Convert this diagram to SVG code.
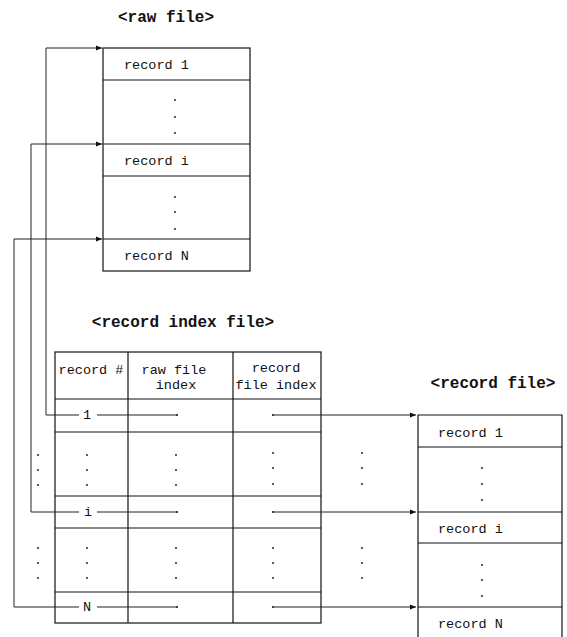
<svg xmlns="http://www.w3.org/2000/svg" width="567" height="637" viewBox="0 0 567 637">
<defs>
<marker id="ah" viewBox="0 0 6 6" refX="6" refY="3" markerWidth="6" markerHeight="6" markerUnits="userSpaceOnUse" orient="auto">
<path d="M0,0.5 L6,3 L0,5.5 Z" fill="#111"/>
</marker>
<style>
.t{font-family:"Liberation Mono","DejaVu Sans Mono",monospace;font-size:13.5px;fill:#111}
.h{font-family:"Liberation Mono","DejaVu Sans Mono",monospace;font-size:16px;font-weight:bold;fill:#111}
.b{fill:none;stroke:#111;stroke-width:1.2}
.c{fill:none;stroke:#222;stroke-width:1}
.d{fill:#111}
</style>
</defs>
<rect width="567" height="637" fill="#fff"/>

<g id="raw-file">
<text class="h" x="166" y="22" text-anchor="middle">&lt;raw file&gt;</text>
<rect class="b" x="103" y="48" width="147" height="223"/>
<line class="b" x1="103" y1="80" x2="250" y2="80"/>
<line class="b" x1="103" y1="144" x2="250" y2="144"/>
<line class="b" x1="103" y1="176" x2="250" y2="176"/>
<line class="b" x1="103" y1="239" x2="250" y2="239"/>
<text class="t" x="124" y="69">record 1</text>
<text class="t" x="124" y="165">record i</text>
<text class="t" x="124" y="260">record N</text>
<circle class="d" cx="175" cy="100" r="0.9"/><circle class="d" cx="175" cy="117" r="0.9"/><circle class="d" cx="175" cy="133" r="0.9"/>
<circle class="d" cx="175" cy="197" r="0.9"/><circle class="d" cx="175" cy="212" r="0.9"/><circle class="d" cx="175" cy="229" r="0.9"/>
</g>

<g id="record-index-file">
<text class="h" x="183" y="327" text-anchor="middle">&lt;record index file&gt;</text>
<rect class="b" x="55" y="352" width="266" height="271"/>
<line class="b" x1="128" y1="352" x2="128" y2="623"/>
<line class="b" x1="233" y1="352" x2="233" y2="623"/>
<line class="b" x1="55" y1="399" x2="321" y2="399"/>
<line class="b" x1="55" y1="432" x2="321" y2="432"/>
<line class="b" x1="55" y1="496" x2="321" y2="496"/>
<line class="b" x1="55" y1="528" x2="321" y2="528"/>
<line class="b" x1="55" y1="592" x2="321" y2="592"/>
<text class="t" x="91" y="374" text-anchor="middle">record #</text>
<text class="t" x="174" y="374" text-anchor="middle">raw file</text>
<text class="t" x="176" y="389" text-anchor="middle">index</text>
<text class="t" x="276" y="372" text-anchor="middle">record</text>
<text class="t" x="276" y="389" text-anchor="middle">file index</text>
<text class="t" x="87" y="419" text-anchor="middle">1</text>
<text class="t" x="88" y="516" text-anchor="middle">i</text>
<text class="t" x="87" y="611" text-anchor="middle">N</text>
<g class="d">
<circle cx="177" cy="415" r="1"/><circle cx="273" cy="415" r="1"/>
<circle cx="177" cy="512" r="1"/><circle cx="273" cy="512" r="1"/>
<circle cx="177" cy="607" r="1"/><circle cx="273" cy="607" r="1"/>
<circle cx="87" cy="455" r="0.9"/><circle cx="87" cy="470" r="0.9"/><circle cx="87" cy="485" r="0.9"/>
<circle cx="176" cy="455" r="0.9"/><circle cx="176" cy="470" r="0.9"/><circle cx="176" cy="485" r="0.9"/>
<circle cx="273" cy="453" r="0.9"/><circle cx="273" cy="468" r="0.9"/><circle cx="273" cy="484" r="0.9"/>
<circle cx="87" cy="548" r="0.9"/><circle cx="87" cy="563" r="0.9"/><circle cx="87" cy="578" r="0.9"/>
<circle cx="176" cy="548" r="0.9"/><circle cx="176" cy="563" r="0.9"/><circle cx="176" cy="578" r="0.9"/>
<circle cx="273" cy="548" r="0.9"/><circle cx="273" cy="563" r="0.9"/><circle cx="273" cy="578" r="0.9"/>
<circle cx="38" cy="455" r="0.9"/><circle cx="38" cy="470" r="0.9"/><circle cx="38" cy="485" r="0.9"/>
<circle cx="38" cy="548" r="0.9"/><circle cx="38" cy="563" r="0.9"/><circle cx="38" cy="578" r="0.9"/>
<circle cx="362" cy="453" r="0.9"/><circle cx="362" cy="468" r="0.9"/><circle cx="362" cy="484" r="0.9"/>
<circle cx="362" cy="548" r="0.9"/><circle cx="362" cy="563" r="0.9"/><circle cx="362" cy="578" r="0.9"/>
</g>
</g>

<g id="record-file">
<text class="h" x="493" y="388" text-anchor="middle">&lt;record file&gt;</text>
<path class="b" d="M418,637 V415 H562 V637"/>
<line class="b" x1="418" y1="447" x2="562" y2="447"/>
<line class="b" x1="418" y1="512" x2="562" y2="512"/>
<line class="b" x1="418" y1="543" x2="562" y2="543"/>
<line class="b" x1="418" y1="607" x2="562" y2="607"/>
<text class="t" x="438" y="437">record 1</text>
<text class="t" x="438" y="533">record i</text>
<text class="t" x="438" y="628">record N</text>
<g class="d">
<circle cx="482" cy="468" r="0.9"/><circle cx="482" cy="484" r="0.9"/><circle cx="482" cy="500" r="0.9"/>
<circle cx="482" cy="565" r="0.9"/><circle cx="482" cy="580" r="0.9"/><circle cx="482" cy="596" r="0.9"/>
</g>
</g>

<g id="connectors">
<path class="c" d="M79,415 H46 V48 H102" marker-end="url(#ah)"/>
<path class="c" d="M79,512 H31 V144 H102" marker-end="url(#ah)"/>
<path class="c" d="M79,607 H14 V239 H102" marker-end="url(#ah)"/>
<line class="c" x1="97" y1="415" x2="177" y2="415"/>
<line class="c" x1="97" y1="512" x2="177" y2="512"/>
<line class="c" x1="97" y1="607" x2="177" y2="607"/>
<line class="c" x1="273" y1="415" x2="416" y2="415" marker-end="url(#ah)"/>
<line class="c" x1="273" y1="512" x2="416" y2="512" marker-end="url(#ah)"/>
<line class="c" x1="273" y1="607" x2="416" y2="607" marker-end="url(#ah)"/>
</g>
</svg>
